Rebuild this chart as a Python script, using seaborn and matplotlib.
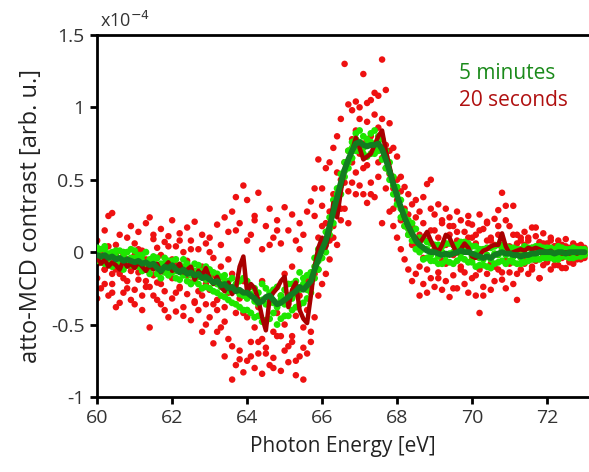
import matplotlib
matplotlib.use("Agg")
import matplotlib.pyplot as plt
import matplotlib.ticker as mticker
import numpy as np
import seaborn as sns

# photon energy grid [eV]
energy = np.round(np.arange(60.0, 73.05, 0.1), 2)

# smoothed curves, units of 1e-4
green_line = [
    -0.02, -0.03, -0.02, -0.04, -0.03, -0.05, -0.04, -0.06, -0.05, -0.06,
    -0.07, -0.06, -0.08, -0.07, -0.09, -0.08, -0.11, -0.13, -0.10, -0.11,
    -0.09, -0.12, -0.14, -0.12, -0.15, -0.14, -0.16, -0.15, -0.18, -0.17,
    -0.19, -0.21, -0.20, -0.23, -0.22, -0.25, -0.24, -0.27, -0.26, -0.28,
    -0.28, -0.30, -0.32, -0.35, -0.34, -0.31, -0.30, -0.33, -0.36, -0.35,
    -0.33, -0.31, -0.29, -0.27, -0.24, -0.26, -0.23, -0.20, -0.12, -0.05,
    0.02, 0.08, 0.18, 0.28, 0.38, 0.48, 0.57, 0.64, 0.70, 0.75,
    0.76, 0.74, 0.73, 0.74, 0.74, 0.75, 0.71, 0.64, 0.56, 0.47,
    0.39, 0.31, 0.24, 0.18, 0.13, 0.08, 0.05, 0.03, 0.01, 0.00,
    0.00, -0.01, -0.02, -0.01, -0.02, -0.01, 0.00, 0.01, 0.00, 0.00,
    -0.01, -0.02, -0.03, -0.04, -0.03, -0.04, -0.02, -0.01, 0.00, -0.01,
    -0.01, -0.02, -0.02, -0.03, -0.02, -0.02, -0.01, -0.01, 0.00, 0.00,
    0.00, 0.00, -0.01, 0.00, 0.00, -0.01, 0.00, 0.00, 0.00, 0.00, 0.00,
]

red_line = [
    -0.04, -0.08, -0.05, -0.10, -0.07, -0.09, -0.12, -0.06, -0.10, -0.08,
    -0.11, -0.07, -0.10, -0.13, -0.09, -0.12, -0.08, -0.14, -0.10, -0.07,
    -0.13, -0.11, -0.08, -0.14, -0.12, -0.10, -0.19, -0.13, -0.16, -0.11,
    -0.18, -0.22, -0.17, -0.24, -0.27, -0.21, -0.29, -0.25, -0.10, -0.03,
    -0.28, -0.22, -0.25, -0.33, -0.45, -0.54, -0.32, -0.28, -0.25, -0.20,
    -0.17, -0.38, -0.26, -0.21, -0.40, -0.46, -0.49, -0.30, -0.10, 0.03,
    0.10, 0.03, 0.15, 0.34, 0.24, 0.42, 0.57, 0.64, 0.70, 0.79,
    0.72, 0.64, 0.66, 0.68, 0.74, 0.80, 0.84, 0.70, 0.59, 0.48,
    0.38, 0.31, 0.23, 0.17, 0.12, 0.10, 0.06, 0.10, 0.14, 0.08,
    0.03, 0.00, 0.05, 0.12, 0.10, 0.04, -0.01, 0.02, 0.06, 0.03,
    -0.03, -0.04, -0.02, 0.01, 0.02, 0.04, 0.05, 0.05, 0.13, 0.04,
    -0.01, 0.00, 0.01, 0.02, 0.01, 0.03, 0.02, 0.03, 0.02, 0.01,
    0.00, 0.01, -0.01, 0.00, -0.01, 0.00, -0.01, 0.00, -0.01, 0.00, 0.00,
]

# 20 second scans (raw points)
red_a = [
    0.08, 0.02, 0.15, 0.25, 0.27, 0.05, 0.12, -0.02, 0.10, 0.18,
    0.06, 0.14, 0.01, 0.20, 0.24, 0.09, 0.03, 0.16, 0.07, 0.11,
    0.22, 0.04, 0.13, 0.00, 0.17, 0.08, 0.21, 0.02, 0.12, 0.06,
    0.10, -0.04, 0.19, 0.05, 0.24, 0.14, 0.28, 0.38, 0.20, 0.46,
    0.36, 0.12, 0.25, 0.41, 0.02, 0.18, 0.30, 0.10, 0.22, 0.06,
    0.31, 0.15, 0.26, 0.08, 0.20, 0.12, 0.28, 0.35, 0.44, 0.64,
    0.44, 0.58, 0.62, 0.72, 0.80, 0.92, 1.30, 1.02, 0.98, 1.04,
    1.00, 1.23, 1.03, 1.05, 1.10, 1.08, 1.33, 1.12, 0.89, 0.72,
    0.66, 0.52, 0.45, 0.40, 0.33, 0.36, 0.28, 0.38, 0.47, 0.50,
    0.26, 0.33, 0.20, 0.30, 0.24, 0.18, 0.28, 0.22, 0.14, 0.25,
    0.19, 0.12, 0.26, 0.16, 0.21, 0.10, 0.23, 0.29, 0.41, 0.32,
    0.18, 0.32, 0.12, 0.08, 0.14, 0.10, 0.17, 0.11, 0.07, 0.13,
    0.06, 0.10, 0.04, 0.08, 0.05, 0.09, 0.03, 0.06, 0.04, 0.05, 0.03,
]
red_b = [
    -0.18, -0.25, -0.12, -0.30, -0.22, -0.38, -0.15, -0.28, -0.20, -0.33,
    -0.26, -0.19, -0.40, -0.24, -0.52, -0.30, -0.21, -0.36, -0.27, -0.45,
    -0.32, -0.41, -0.25, -0.38, -0.29, -0.47, -0.34, -0.40, -0.55, -0.36,
    -0.45, -0.63, -0.40, -0.52, -0.72, -0.60, -0.88, -0.78, -0.68, -0.83,
    -0.75, -0.62, -0.80, -0.70, -0.84, -0.66, -0.78, -0.73, -0.58, -0.82,
    -0.68, -0.76, -0.62, -0.85, -0.72, -0.88, -0.70, -0.62, -0.45, -0.30,
    -0.22, -0.15, -0.05, 0.10, 0.05, 0.22, 0.30, 0.42, 0.48, 0.55,
    0.46, 0.40, 0.34, 0.48, 0.38, 0.52, 0.20, 0.44, 0.28, 0.18,
    0.10, 0.02, -0.05, -0.12, -0.20, -0.15, -0.30, -0.22, -0.28, -0.18,
    -0.24, -0.14, -0.26, -0.20, -0.31, -0.16, -0.25, -0.12, -0.22, -0.28,
    -0.18, -0.30, -0.42, -0.24, -0.15, -0.26, -0.20, -0.12, -0.19, -0.25,
    -0.14, -0.22, -0.33, -0.12, -0.08, -0.15, -0.10, -0.06, -0.18, -0.09,
    -0.07, -0.12, -0.05, -0.09, -0.04, -0.11, -0.06, -0.08, -0.03, -0.05, -0.04,
]
red_c = [
    -0.08, 0.01, -0.12, -0.04, -0.15, -0.02, -0.09, -0.18, -0.05, -0.13,
    -0.02, -0.14, -0.07, -0.20, -0.10, -0.16, -0.04, -0.22, -0.12, -0.08,
    -0.18, -0.09, -0.24, -0.13, -0.06, -0.21, -0.15, -0.27, -0.10, -0.22,
    -0.26, -0.16, -0.33, -0.22, -0.38, -0.28, -0.15, -0.42, -0.32, -0.20,
    -0.45, -0.30, -0.52, -0.38, -0.60, -0.48, -0.35, -0.55, -0.42, -0.30,
    -0.50, -0.36, -0.58, -0.44, -0.30, -0.52, -0.40, -0.25, -0.15, 0.10,
    0.18, 0.05, 0.28, 0.40, 0.36, 0.50, 0.62, 0.70, 0.78, 0.84,
    0.68, 0.75, 0.60, 0.80, 0.72, 0.86, 0.65, 0.74, 0.54, 0.44,
    0.36, 0.22, 0.30, 0.12, 0.18, 0.05, 0.12, -0.04, 0.08, 0.15,
    0.02, 0.10, -0.06, 0.05, 0.12, -0.02, 0.08, -0.10, 0.04, 0.10,
    -0.05, 0.06, -0.12, 0.02, 0.08, -0.08, 0.05, 0.12, 0.02, -0.06,
    0.04, -0.03, 0.06, -0.02, 0.05, -0.05, 0.03, 0.00, 0.06, -0.02,
    0.02, -0.03, 0.04, 0.00, -0.02, 0.03, 0.01, -0.03, 0.02, 0.00, 0.01,
]
red_d = [
    -0.32, -0.06, -0.22, 0.04, -0.28, -0.12, -0.35, 0.00, -0.25, -0.10,
    -0.36, 0.02, -0.30, -0.05, -0.24, 0.12, -0.33, -0.02, -0.40, 0.04,
    -0.05, -0.28, 0.08, -0.44, -0.16, 0.02, -0.35, -0.12, -0.30, -0.50,
    0.00, -0.36, -0.55, -0.10, -0.48, -0.05, -0.65, 0.15, -0.74, -0.42,
    0.08, -0.72, 0.22, -0.62, -0.20, -0.70, 0.05, -0.80, 0.15, -0.58,
    -0.15, -0.65, -0.10, -0.75, 0.02, -0.66, -0.20, -0.55, 0.25, -0.12,
    0.32, 0.20, 0.08, 0.18, 0.55, 0.30, 0.48, 0.20, 0.62, 0.40,
    0.92, 0.58, 0.90, 0.40, 0.95, 0.62, 0.92, 0.58, 0.70, 0.30,
    0.50, 0.42, 0.18, 0.26, 0.05, 0.24, -0.10, 0.20, -0.12, 0.30,
    0.15, -0.18, 0.22, -0.08, 0.18, -0.25, 0.14, 0.06, -0.14, 0.20,
    0.10, -0.16, 0.15, -0.30, 0.20, 0.08, -0.10, 0.18, -0.14, 0.22,
    -0.08, 0.12, -0.15, 0.10, -0.05, 0.08, -0.12, 0.17, -0.18, 0.06,
    -0.06, 0.08, -0.09, 0.05, -0.11, 0.04, -0.07, 0.03, -0.05, 0.02, -0.02,
]

# 5 minute scans (raw points)
green_a = [
    0.03, -0.05, 0.02, -0.01, 0.00, -0.08, 0.01, -0.03, -0.09, 0.02,
    -0.04, -0.10, -0.02, -0.12, -0.05, -0.03, -0.15, -0.08, -0.04, -0.16,
    -0.06, -0.18, -0.09, -0.05, -0.20, -0.11, -0.08, -0.22, -0.13, -0.10,
    -0.25, -0.14, -0.28, -0.17, -0.31, -0.20, -0.35, -0.22, -0.38, -0.18,
    -0.40, -0.24, -0.45, -0.28, -0.48, -0.25, -0.46, -0.26, -0.50, -0.30,
    -0.44, -0.22, -0.40, -0.20, -0.36, -0.18, -0.32, -0.14, -0.18, 0.02,
    -0.04, 0.14, 0.12, 0.36, 0.32, 0.54, 0.52, 0.70, 0.65, 0.82,
    0.70, 0.80, 0.66, 0.82, 0.68, 0.80, 0.64, 0.70, 0.50, 0.52,
    0.33, 0.36, 0.18, 0.22, 0.08, 0.16, 0.00, 0.09, -0.04, 0.06,
    -0.06, 0.05, -0.08, 0.06, -0.07, 0.05, -0.06, 0.07, -0.05, 0.06,
    -0.07, 0.04, -0.09, 0.02, -0.10, 0.03, -0.08, 0.05, -0.06, 0.04,
    -0.06, 0.03, -0.08, 0.02, -0.07, 0.03, -0.05, 0.04, -0.05, 0.03,
    -0.04, 0.03, -0.05, 0.04, -0.03, 0.02, -0.04, 0.03, -0.03, 0.02, -0.02,
]
green_b = [
    -0.06, 0.02, -0.08, -0.03, -0.10, 0.01, -0.07, -0.12, 0.00, -0.09,
    0.01, -0.05, -0.13, 0.00, -0.15, -0.11, -0.04, -0.18, -0.14, -0.06,
    -0.14, -0.05, -0.19, -0.16, -0.08, -0.22, -0.20, -0.09, -0.25, -0.24,
    -0.12, -0.27, -0.15, -0.30, -0.16, -0.33, -0.18, -0.36, -0.20, -0.40,
    -0.20, -0.42, -0.25, -0.44, -0.22, -0.47, -0.28, -0.42, -0.24, -0.46,
    -0.26, -0.44, -0.22, -0.38, -0.14, -0.35, -0.16, -0.28, -0.04, -0.12,
    0.08, 0.00, 0.24, 0.20, 0.44, 0.40, 0.62, 0.58, 0.76, 0.70,
    0.84, 0.68, 0.78, 0.68, 0.84, 0.70, 0.78, 0.58, 0.62, 0.40,
    0.45, 0.24, 0.28, 0.12, 0.20, 0.02, 0.10, -0.05, 0.07, -0.06,
    0.05, -0.08, 0.04, -0.06, 0.06, -0.08, 0.05, -0.04, 0.07, -0.07,
    0.04, -0.10, 0.02, -0.09, 0.03, -0.11, 0.04, -0.07, 0.05, -0.08,
    0.03, -0.07, 0.02, -0.08, 0.04, -0.06, 0.03, -0.05, 0.04, -0.04,
    0.03, -0.04, 0.02, -0.05, 0.03, -0.03, 0.02, -0.04, 0.02, -0.03, 0.02,
]
green_c = [
    -0.01, -0.04, 0.04, -0.06, -0.02, -0.03, -0.05, 0.00, -0.06, -0.04,
    -0.08, -0.02, -0.06, -0.09, -0.11, -0.06, -0.09, -0.13, -0.08, -0.12,
    -0.10, -0.13, -0.12, -0.10, -0.14, -0.16, -0.13, -0.17, -0.15, -0.19,
    -0.18, -0.21, -0.22, -0.24, -0.20, -0.27, -0.26, -0.25, -0.29, -0.30,
    -0.32, -0.29, -0.34, -0.36, -0.33, -0.36, -0.32, -0.35, -0.38, -0.33,
    -0.36, -0.30, -0.32, -0.29, -0.26, -0.22, -0.26, -0.22, -0.10, -0.06,
    0.04, 0.06, 0.16, 0.26, 0.40, 0.46, 0.56, 0.62, 0.72, 0.78,
    0.76, 0.72, 0.74, 0.76, 0.72, 0.77, 0.72, 0.66, 0.55, 0.46,
    0.40, 0.30, 0.24, 0.16, 0.14, 0.08, 0.04, 0.02, 0.02, -0.02,
    0.01, -0.03, 0.00, -0.02, -0.01, 0.00, 0.02, -0.01, 0.01, 0.02,
    -0.03, -0.01, -0.04, -0.05, -0.02, -0.05, -0.01, -0.02, 0.01, -0.02,
    0.00, -0.03, -0.01, -0.04, -0.01, -0.03, 0.00, -0.02, 0.01, -0.01,
    0.01, -0.01, 0.00, -0.02, 0.01, 0.00, -0.01, 0.01, 0.00, -0.01, 0.00,
]

sns.set_style("white")
plt.rcParams['font.family'] = ['Open Sans', 'DejaVu Sans']

fig = plt.figure(figsize=(5.89, 4.72), dpi=100)
ax = fig.add_axes([0.165, 0.159, 0.835, 0.767])

for vals in [red_a, red_b, red_c, red_d]:
    sns.scatterplot(x=energy, y=vals, ax=ax, color='#ee1111', s=22,
                    edgecolor='none', linewidth=0, zorder=2)
for vals in [green_a, green_b, green_c]:
    sns.scatterplot(x=energy, y=vals, ax=ax, color='#1ee600', s=24,
                    edgecolor='none', linewidth=0, zorder=3)

sns.lineplot(x=energy, y=red_line, ax=ax, color='#a80000', linewidth=3.2, zorder=4)
sns.lineplot(x=energy, y=green_line, ax=ax, color='#127c20', linewidth=4.2, zorder=5)

ax.set_xlim(60, 73.12)
ax.set_ylim(-1, 1.5)
ax.set_xticks([60, 62, 64, 66, 68, 70, 72])
ax.set_yticks([-1, -0.5, 0, 0.5, 1, 1.5])
ax.yaxis.set_major_formatter(mticker.FuncFormatter(lambda v, p: f'{v:g}'))

for side in ['left', 'bottom', 'top']:
    ax.spines[side].set_linewidth(2)
    ax.spines[side].set_color('black')
ax.spines['right'].set_visible(False)
ax.tick_params(direction='out', length=5, width=2, labelsize=14,
               colors='black', left=True, bottom=True, pad=4)
for lab in ax.get_xticklabels() + ax.get_yticklabels():
    lab.set_color('#333333')

ax.set_xlabel('Photon Energy [eV]', fontsize=15, color='#222222', labelpad=6)
ax.set_ylabel('atto-MCD contrast [arb. u.]', fontsize=17, color='#222222', labelpad=6)

ax.text(0.005, 1.01, r'x10$^{-4}$', transform=ax.transAxes, fontsize=13,
        color='#333333', ha='left', va='bottom')
ax.text(0.735, 0.893, '5 minutes', transform=ax.transAxes, fontsize=15,
        color='#1a8a1a', ha='left', va='center')
ax.text(0.735, 0.818, '20 seconds', transform=ax.transAxes, fontsize=15,
        color='#b01010', ha='left', va='center')

fig.savefig('out.png', dpi=100)
